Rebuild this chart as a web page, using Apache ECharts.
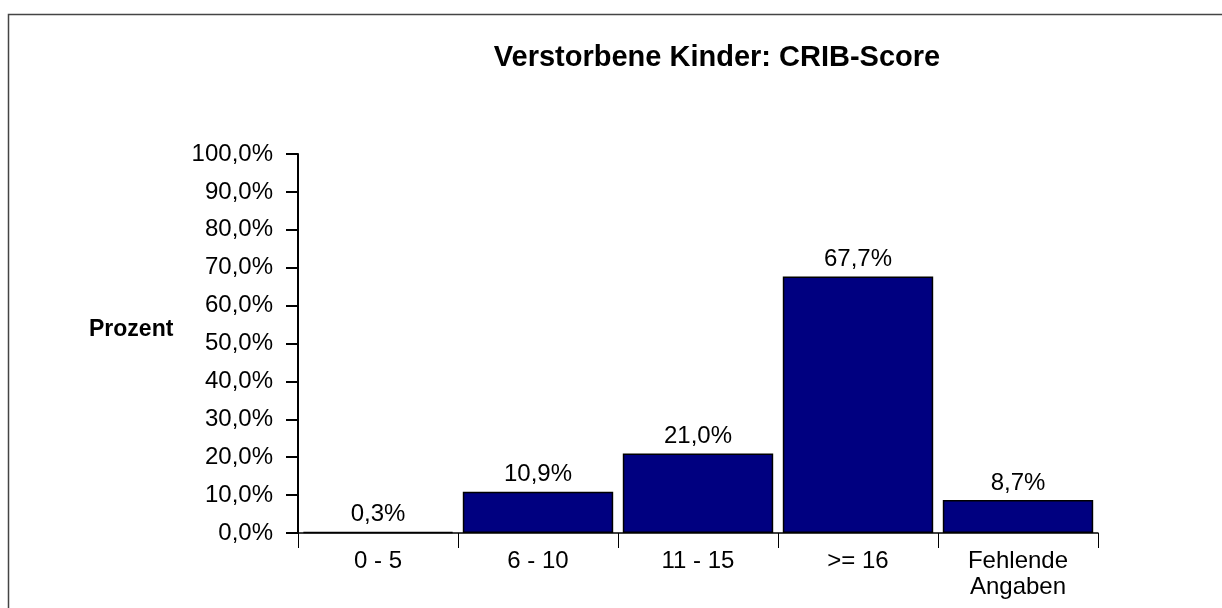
<!DOCTYPE html>
<html>
<head>
<meta charset="utf-8">
<script src="https://cdn.jsdelivr.net/npm/echarts@6/dist/echarts.min.js"></script>
<style>
html,body{margin:0;padding:0;background:#fff;}
#chart{width:1222px;height:608px;}
</style>
</head>
<body>
<div id="chart"></div>
<script>
var titleText = 'Verstorbene Kinder: CRIB-Score';
var yAxisName = 'Prozent';
var categories = ['0 - 5', '6 - 10', '11 - 15', '>= 16', 'Fehlende\nAngaben'];
var values = [0.3, 10.9, 21.0, 67.7, 8.7];

var FONT = '"Liberation Sans", Arial, Helvetica, sans-serif';
function pct(v){ return v.toFixed(1).replace('.', ',') + '%'; }

var chart = echarts.init(document.getElementById('chart'), null, {renderer:'canvas'});
chart.setOption({
  backgroundColor: '#ffffff',
  animation: false,
  title: {
    text: titleText,
    left: 712, top: 38, textAlign: 'center',
    textStyle: {fontFamily: FONT, fontSize: 29, fontWeight: 'bold', color: '#000'}
  },
  graphic: [
    {type:'rect', shape:{x:8.5, y:14.5, width:1240, height:700}, style:{fill:'none', stroke:'#444', lineWidth:1.5}, silent:true},
    {type:'text', left: 89, top: 318, style:{text: yAxisName, fontFamily: FONT, fontSize: 23, fontWeight:'bold', fill:'#000'}}
  ],
  grid: {left: 298, right: 124, top: 154, bottom: 75, containLabel: false},
  xAxis: {
    type: 'category',
    data: categories,
    axisLine: {lineStyle: {color: '#000', width: 1.5}},
    axisTick: {show: true, alignWithLabel: false, length: 15, lineStyle: {color: '#000', width: 1}},
    axisLabel: {fontFamily: FONT, fontSize: 24, color: '#000', margin: 15, lineHeight: 26, interval: 0}
  },
  yAxis: {
    type: 'value',
    min: 0, max: 100, interval: 10,
    axisLine: {show: true, lineStyle: {color: '#000', width: 2}},
    axisTick: {show: true, length: 12, lineStyle: {color: '#000', width: 2}},
    splitLine: {show: false},
    axisLabel: {fontFamily: FONT, fontSize: 24, color: '#000', margin: 25, formatter: function(v){ return pct(v); }}
  },
  series: [{
    type: 'bar',
    data: values,
    barCategoryGap: '6%',
    itemStyle: {color: '#000080', borderColor: '#000', borderWidth: 1.5},
    label: {show: true, position: 'top', distance: 5, fontFamily: FONT, fontSize: 24, color: '#000',
      formatter: function(p){ return pct(p.value); }}
  }]
});
</script>
</body>
</html>
